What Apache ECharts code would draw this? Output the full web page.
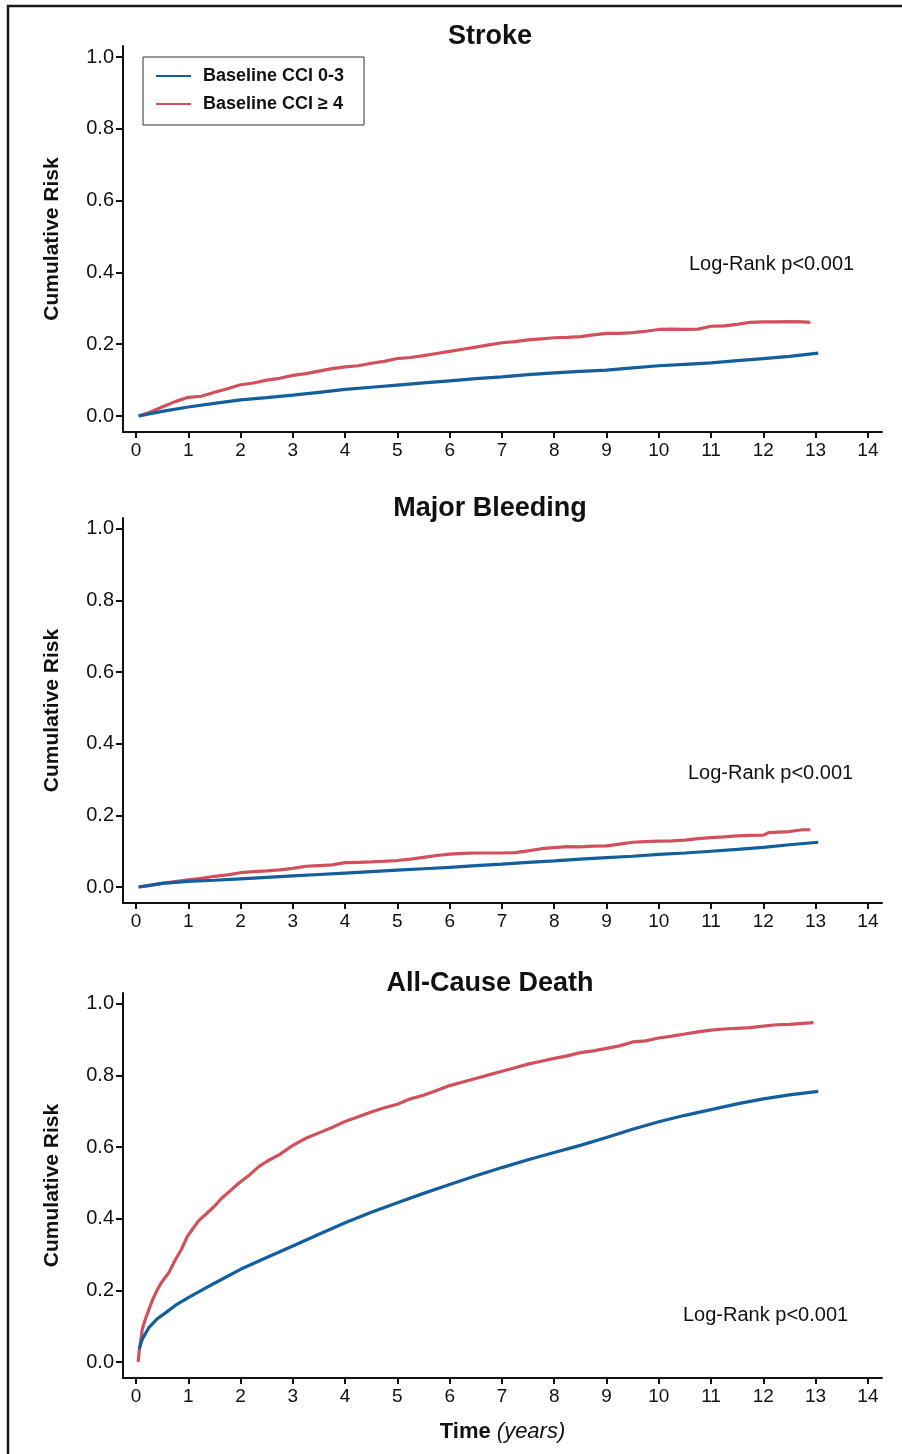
<!DOCTYPE html>
<html><head><meta charset="utf-8">
<script src="https://cdn.jsdelivr.net/npm/echarts@6/dist/echarts.min.js"></script>
<style>html,body{margin:0;padding:0;background:#fff}#c{width:902px;height:1454px}</style>
</head><body><div id="c"></div>
<script>
const seriesNames = ['Baseline CCI 0-3', 'Baseline CCI \u2265 4'];
const panelTitles = ['Stroke', 'Major Bleeding', 'All-Cause Death'];
const pValueText = 'Log-Rank p<0.001';
const yAxisName = 'Cumulative Risk';
const xTicks = [0,1,2,3,4,5,6,7,8,9,10,11,12,13,14];
const yTicks = [0,0.2,0.4,0.6,0.8,1.0];

// Stroke
const strokeLowT = [0.05,0.5,1,1.5,2,2.5,3,3.5,4,4.5,5,5.5,6,6.5,7,7.5,8,8.5,9,9.5,10,10.5,11,11.5,12,12.5,13.05];
const strokeLowV = [0,0.013,0.025,0.035,0.045,0.051,0.058,0.066,0.074,0.08,0.086,0.092,0.098,0.104,0.109,0.115,0.12,0.124,0.128,0.134,0.14,0.144,0.148,0.154,0.16,0.166,0.175];
const strokeHighT = [0.05,0.25,0.5,0.75,1,1.25,1.5,1.75,2,2.25,2.5,2.75,3,3.25,3.5,3.75,4,4.25,4.5,4.75,5,5.25,5.5,5.75,6,6.25,6.5,6.75,7,7.25,7.5,7.75,8,8.25,8.5,8.75,9,9.25,9.5,9.75,10,10.25,10.5,10.75,11,11.25,11.5,11.75,12,12.25,12.5,12.75,12.9];
const strokeHighV = [0,0.01,0.025,0.04,0.052,0.055,0.066,0.076,0.087,0.092,0.1,0.105,0.113,0.118,0.125,0.132,0.137,0.14,0.147,0.152,0.16,0.163,0.168,0.174,0.18,0.186,0.192,0.198,0.204,0.207,0.212,0.215,0.218,0.219,0.221,0.226,0.23,0.23,0.232,0.236,0.241,0.242,0.241,0.242,0.25,0.251,0.255,0.261,0.262,0.262,0.263,0.262,0.261];

// Major Bleeding
const bleedLowT = [0.05,0.5,1,1.5,2,2.5,3,3.5,4,4.5,5,5.5,6,6.5,7,7.5,8,8.5,9,9.5,10,10.5,11,11.5,12,12.5,13.05];
const bleedLowV = [0,0.01,0.016,0.019,0.023,0.027,0.031,0.035,0.039,0.043,0.047,0.051,0.055,0.06,0.064,0.069,0.073,0.078,0.082,0.086,0.091,0.095,0.1,0.105,0.111,0.118,0.125];
const bleedHighT = [0.05,0.25,0.5,0.75,1,1.25,1.5,1.75,2,2.25,2.5,2.75,3,3.25,3.5,3.75,4,4.25,4.5,4.75,5,5.25,5.5,5.75,6,6.25,6.5,6.75,7,7.25,7.5,7.75,8,8.25,8.5,8.75,9,9.25,9.5,9.75,10,10.25,10.5,10.75,11,11.25,11.5,11.75,12,12.1,12.5,12.75,12.9];
const bleedHighV = [0,0.004,0.01,0.015,0.02,0.024,0.03,0.034,0.04,0.043,0.045,0.048,0.052,0.058,0.06,0.062,0.068,0.069,0.07,0.072,0.074,0.078,0.083,0.088,0.092,0.094,0.095,0.095,0.095,0.096,0.101,0.107,0.11,0.113,0.112,0.114,0.115,0.12,0.125,0.127,0.128,0.129,0.131,0.135,0.138,0.14,0.143,0.144,0.145,0.152,0.155,0.16,0.16];

// All-Cause Death
const deathLowT = [0.06,0.12,0.25,0.4,0.57,0.75,1,1.25,1.5,2,2.5,3,3.5,4,4.5,5,5.5,6,6.5,7,7.5,8,8.5,9,9.5,10,10.5,11,11.5,12,12.5,13.05];
const deathLowV = [0.036,0.064,0.097,0.12,0.138,0.158,0.18,0.2,0.22,0.259,0.292,0.324,0.357,0.389,0.418,0.445,0.471,0.496,0.52,0.543,0.565,0.585,0.605,0.627,0.65,0.671,0.689,0.705,0.721,0.735,0.746,0.756];
const deathHighT = [0.04,0.06,0.1,0.12,0.18,0.25,0.32,0.41,0.5,0.63,0.75,0.87,0.98,1.1,1.2,1.33,1.5,1.65,1.8,1.97,2.15,2.36,2.5,2.75,3,3.25,3.5,3.75,4,4.25,4.5,4.75,5,5.25,5.5,5.75,6,6.25,6.5,6.75,7,7.25,7.5,7.75,8,8.25,8.5,8.75,9,9.25,9.5,9.75,10,10.25,10.5,10.75,11,11.25,11.5,11.75,12,12.25,12.5,12.75,12.96];
const deathHighV = [0,0.03,0.07,0.092,0.12,0.148,0.175,0.203,0.225,0.25,0.285,0.315,0.35,0.375,0.395,0.412,0.435,0.459,0.478,0.5,0.52,0.547,0.56,0.58,0.605,0.625,0.64,0.655,0.672,0.685,0.698,0.71,0.72,0.735,0.745,0.758,0.772,0.782,0.792,0.802,0.812,0.822,0.832,0.84,0.848,0.855,0.864,0.869,0.876,0.883,0.894,0.897,0.905,0.91,0.916,0.922,0.927,0.93,0.932,0.934,0.938,0.942,0.943,0.946,0.948];

const pairs = (t, v) => t.map((x, i) => [x, v[i]]);
const panels = [
  { low: pairs(strokeLowT, strokeLowV), high: pairs(strokeHighT, strokeHighV) },
  { low: pairs(bleedLowT, bleedLowV), high: pairs(bleedHighT, bleedHighV) },
  { low: pairs(deathLowT, deathLowV), high: pairs(deathHighT, deathHighV) }
];

const FONT = "'Liberation Sans', Arial, Helvetica, sans-serif";
const BLUE = '#135f9e';
const RED = '#d2505c';
const gridTops = [46, 518, 993];
const gridHeights = [386, 385, 385];
const titleY = [37, 509, 984];
const pPos = [[689, 264], [688, 773], [683, 1315]];

const chart = echarts.init(document.getElementById('c'), null, { renderer: 'canvas' });

const axisLineStyle = { lineStyle: { color: '#111', width: 2 }, onZero: false };
const option = {
  animation: false,
  backgroundColor: '#fff',
  textStyle: { fontFamily: FONT },
  grid: gridTops.map((t, i) => ({ left: 123, right: 20, top: t, height: gridHeights[i], containLabel: false })),
  xAxis: gridTops.map((t, i) => ({
    type: 'value', gridIndex: i, min: -0.249, max: 14.27,
    axisLine: axisLineStyle,
    axisTick: { show: true, length: 6, lineStyle: { color: '#111', width: 2 }, customValues: xTicks },
    axisLabel: { customValues: xTicks, color: '#111', fontSize: 19, fontFamily: FONT, margin: 9, formatter: v => String(Math.round(v)) },
    splitLine: { show: false },
    name: i === 2 ? '{b|Time} {i|(years)}' : '',
    nameLocation: 'middle', nameGap: 43,
    nameTextStyle: { fontSize: 22, fontFamily: FONT, color: '#111',
      rich: { b: { fontWeight: 'bold', fontSize: 22, fontFamily: FONT, color: '#111' },
              i: { fontStyle: 'italic', fontSize: 22, fontFamily: FONT, color: '#111' } } }
  })),
  yAxis: gridTops.map((t, i) => ({
    type: 'value', gridIndex: i, min: -0.0446, max: 1.0306,
    axisLine: axisLineStyle,
    axisTick: { show: true, length: 7, lineStyle: { color: '#111', width: 2 }, customValues: yTicks },
    axisLabel: { customValues: yTicks, color: '#111', fontSize: 20, fontFamily: FONT, margin: 9, formatter: v => v.toFixed(1) },
    splitLine: { show: false },
    name: yAxisName, nameLocation: 'middle', nameGap: 60, nameRotate: 90,
    nameTextStyle: { fontSize: 21, fontWeight: 'bold', fontFamily: FONT, color: '#111' }
  })),
  legend: {
    data: seriesNames, orient: 'vertical', left: 143, top: 57,
    padding: [9, 20, 11, 13], itemGap: 8, itemWidth: 35, itemHeight: 2,
    icon: 'rect', borderColor: '#333', borderWidth: 1, selectedMode: false,
    textStyle: { fontSize: 18, fontWeight: 'bold', fontFamily: FONT, color: '#111', lineHeight: 20, padding: [0, 0, 0, 7] }
  },
  series: [],
  graphic: [
    { type: 'rect', shape: { x: 8, y: 6, width: 1000, height: 1500 }, style: { fill: 'none', stroke: '#1a1a1a', lineWidth: 2.5 }, silent: true, z: 100 }
  ]
};

panels.forEach((p, i) => {
  option.series.push({ name: seriesNames[0], type: 'line', xAxisIndex: i, yAxisIndex: i, data: p.low, showSymbol: false, symbol: 'none', lineStyle: { color: BLUE, width: 3.2 }, itemStyle: { color: BLUE }, z: 3 });
  option.series.push({ name: seriesNames[1], type: 'line', xAxisIndex: i, yAxisIndex: i, data: p.high, showSymbol: false, symbol: 'none', lineStyle: { color: RED, width: 3.2 }, itemStyle: { color: RED }, z: 2 });
  option.graphic.push({ type: 'text', x: 490, y: titleY[i], style: { text: panelTitles[i], fontSize: 27, fontWeight: 'bold', fontFamily: FONT, fill: '#111', align: 'center', verticalAlign: 'middle' } });
  option.graphic.push({ type: 'text', x: pPos[i][0], y: pPos[i][1], style: { text: pValueText, fontSize: 20, fontFamily: FONT, fill: '#111', align: 'left', verticalAlign: 'middle' } });
});

chart.setOption(option);
</script>
</body></html>
